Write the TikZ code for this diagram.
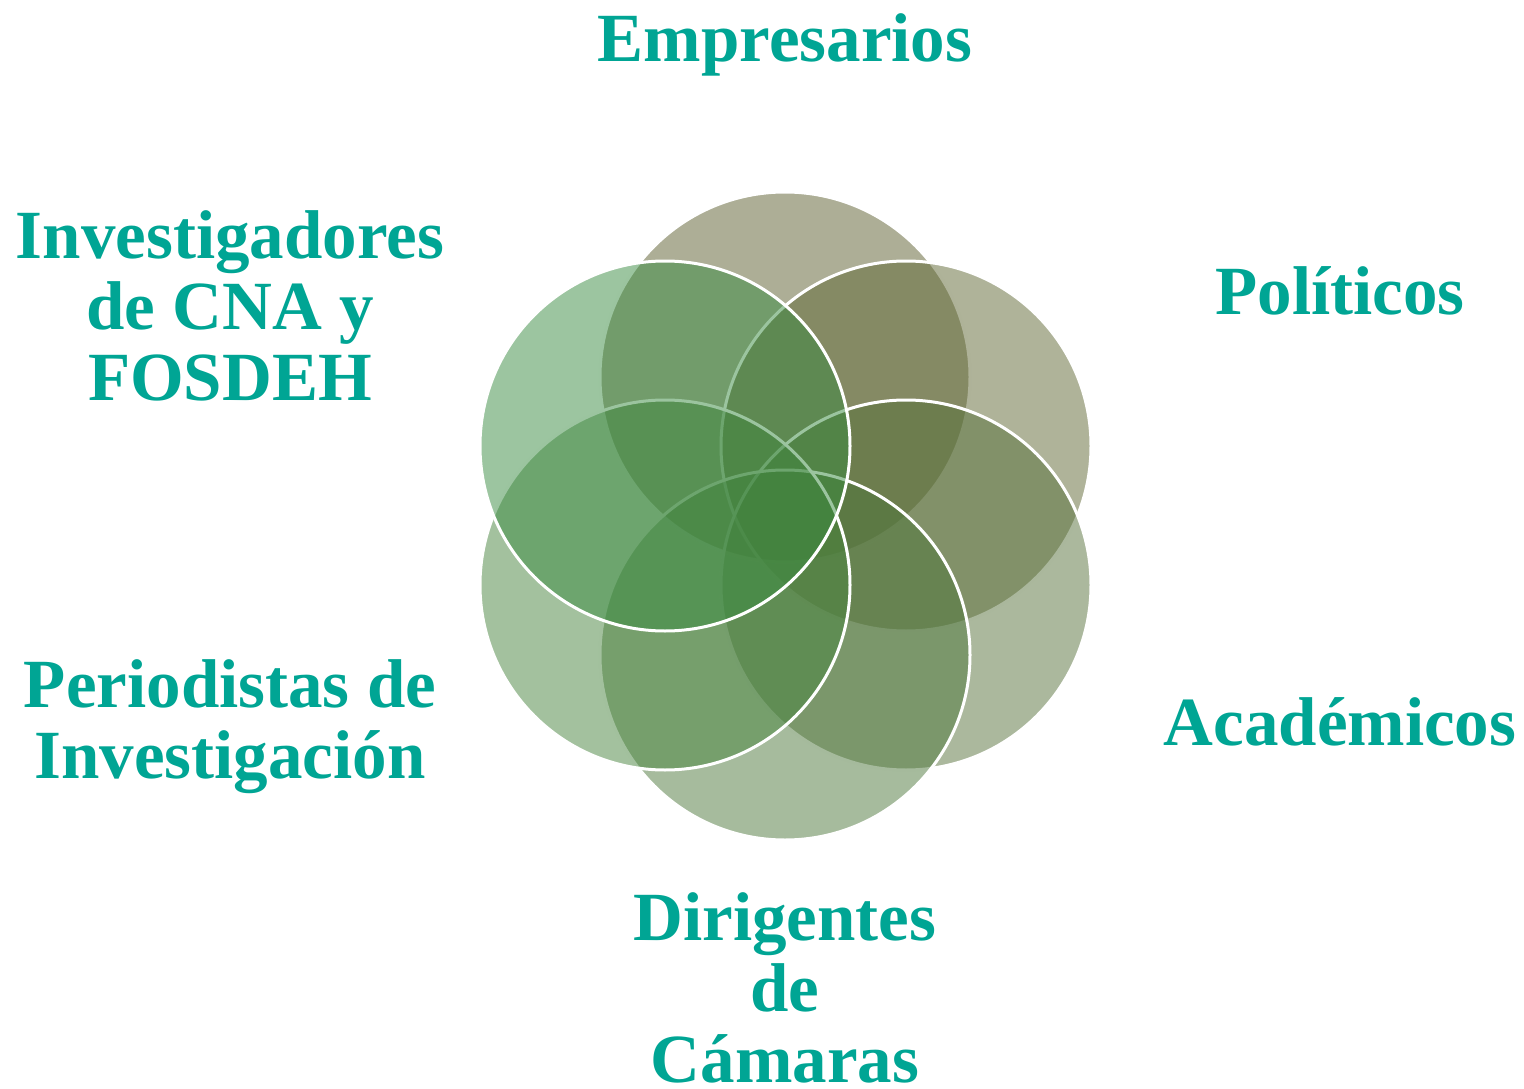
\documentclass[tikz,border=0pt]{standalone}
\usepackage{fontspec}
\setmainfont{Liberation Serif}
\definecolor{txt}{HTML}{00A594}
\definecolor{cA}{RGB}{91,93,45}
\definecolor{cB}{RGB}{95,103,51}
\definecolor{cC}{RGB}{87,113,59}
\definecolor{cD}{RGB}{77,119,59}
\definecolor{cE}{RGB}{71,131,61}
\definecolor{cF}{RGB}{57,139,65}
\begin{document}
\begin{tikzpicture}[x=1pt,y=-1pt,
  circ/.style={draw=white,line width=3pt,fill opacity=0.5,draw opacity=1},
  lbl/.style={text=txt,font=\fontsize{69}{71}\selectfont\bfseries,align=center,inner sep=0pt,anchor=base}]
\useasboundingbox (0,0) rectangle (1524,1089);
\path[circ,fill=cA] (785,377) circle[radius=185];
\path[circ,fill=cB] (906,446) circle[radius=185];
\path[circ,fill=cC] (906,585) circle[radius=185];
\path[circ,fill=cD] (785,655) circle[radius=185];
\path[circ,fill=cE] (665,585) circle[radius=185];
\path[circ,fill=cF] (665,446) circle[radius=185];
\node[lbl] (emp) at (785,62) {Empresarios};
\node[lbl] (pol) at (1340,314) {Políticos};
\node[lbl] (aca) at (1340,745) {Académicos};
\node[lbl,text depth=0pt] (dir) at (785,1082) {Dirigentes\\de\\Cámaras};
\node[lbl] (per) at (230,778) {Periodistas de\\Investigación};
\node[lbl] (inv) at (230,400) {Investigadores\\de CNA y\\FOSDEH};
\end{tikzpicture}
\end{document}
